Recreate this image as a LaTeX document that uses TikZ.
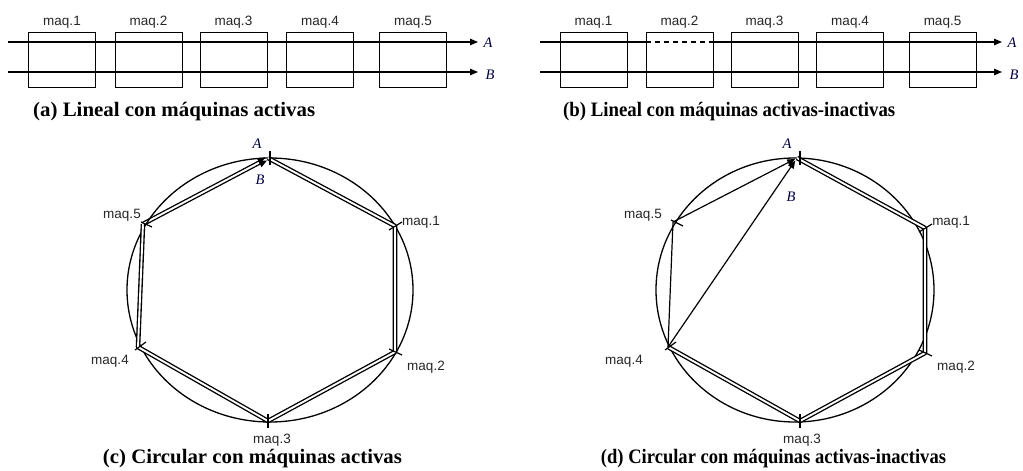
\documentclass[tikz,border=0pt]{standalone}
\usepackage{fontspec}
\setmainfont{Liberation Serif}
\setsansfont{Liberation Sans}
\usetikzlibrary{arrows.meta,calc}

% caption text squeezed or stretched to a given width, height unchanged
\newcommand{\capfit}[2]{\resizebox{#1}{\height}{#2}}

\begin{document}
\begin{tikzpicture}[x=1pt,y=-1pt,
  machine/.style={draw, line width=1pt, minimum width=67pt, minimum height=55pt, inner sep=0pt,
    label distance=2.5pt},
  mlabel/.style={font=\sffamily\fontsize{13.5}{15}\selectfont, text=black!85},
  flow/.style={line width=1.2pt, -{Triangle[length=8pt,width=6.5pt]}},
  plain/.style={line width=1.2pt},
  caption/.style={font=\bfseries\fontsize{20.5}{22}\selectfont, inner sep=0pt},
  ring/.style={line width=1.3pt},
  route/.style={line width=1.35pt, double, double distance=1.9pt, line join=round},
  tick/.style={line width=1.2pt},
  letter/.style={font=\fontsize{14.5}{16}\selectfont\itshape, text=black!75!blue, inner sep=0pt}
]
\useasboundingbox (0,0) rectangle (1023,471);

% ---------- (a) linear layout, all machines active ----------
\foreach \i/\x in {1/62, 2/148.5, 3/233.5, 4/320, 5/413}
  \node[machine, label={[mlabel]above:maq.\i}] (a\i) at (\x,59.5) {};
\coordinate (aA0) at (8,42);  \coordinate (aA1) at (478,42);
\coordinate (aB0) at (8,72);  \coordinate (aB1) at (478,72);
\draw[flow] (aA0) -- (aA1);
\draw[flow] (aB0) -- (aB1);
\node[letter] (aAl) at (488,43) {A};
\node[letter] (aBl) at (490,75) {B};
\node[caption, anchor=west] (capa) at (33,112) {\capfit{282pt}{(a) Lineal con máquinas activas}};

% ---------- (b) linear layout, machine 2 inactive for route A ----------
\foreach \i/\x in {1/593.5, 2/679.5, 3/764.5, 4/850, 5/942.5}
  \node[machine, label={[mlabel]above:maq.\i}] (b\i) at (\x,59.5) {};
\coordinate (bA0) at (540,42);  \coordinate (bA1) at (1002,42);
\coordinate (bB0) at (540,72);  \coordinate (bB1) at (1002,72);
\draw[plain] (bA0) -- (b2.west |- bA0);
\draw[plain, dash pattern=on 5pt off 4pt] (b2.west |- bA0) -- (b2.east |- bA0);
\draw[flow] (b2.east |- bA0) -- (bA1);
\draw[flow] (bB0) -- (bB1);
\node[letter] (bAl) at (1012,43) {A};
\node[letter] (bBl) at (1014,75) {B};
\node[caption, anchor=west] (capb) at (563,112) {\capfit{332pt}{(b) Lineal con máquinas activas-inactivas}};

% ---------- (c) circular layout, all machines active ----------
\draw[ring] (270,290) ellipse [x radius=143, y radius=132];
\coordinate (cT) at (268,158);
\coordinate (c1) at (395,226);
\coordinate (c2) at (395,352);
\coordinate (c3) at (268,421);
\coordinate (c4) at (138,347);
\coordinate (c5) at (143,224);
\draw[route] (cT) -- (c1) -- (c2) -- (c3) -- (c4) -- (c5);
\draw[flow, shorten >=2pt] ($(c5)!1.7pt!90:(cT)$) -- ($(cT)!1.7pt!-90:(c5)$);
\draw[flow, shorten >=2pt] ($(c5)!1.7pt!-90:(cT)$) -- ($(cT)!1.7pt!90:(c5)$);
\draw[tick, shift={(cT)}] (2,-7) -- (2,7);
\draw[tick, shift={(c1)}] (-6,4) -- (7,-4);
\draw[tick, shift={(c2)}] (-6,-3) -- (7,3);
\draw[tick, shift={(c3)}] (0,-7) -- (0,7);
\draw[tick, shift={(c4)}] (-3,3) -- (8,-5);
\draw[tick, shift={(c5)}] (-2,-2) -- (9,3);
\node[letter] (cAl) at (257,144) {A};
\node[letter] (cBl) at (260,180) {B};
\node[mlabel] (cl1) at (421,222) {maq.1};
\node[mlabel] (cl2) at (426,367) {maq.2};
\node[mlabel] (cl3) at (272,440) {maq.3};
\node[mlabel] (cl4) at (110,361) {maq.4};
\node[mlabel] (cl5) at (122,215) {maq.5};
\node[caption] (capc) at (252.5,459) {\capfit{299pt}{(c) Circular con máquinas activas}};

% ---------- (d) circular layout, machine 5 inactive for route B ----------
\draw[ring] (795,290) ellipse [x radius=139, y radius=132];
\coordinate (dT) at (797,158);
\coordinate (d1) at (925,228);
\coordinate (d2) at (925,353);
\coordinate (d3) at (800,421);
\coordinate (d4) at (668,347);
\coordinate (d5) at (673,222);
\draw[route] (dT) -- (d1) -- (d2) -- (d3) -- (d4);
\draw[plain] (d4) -- (d5);
\draw[flow, shorten >=2pt] (d5) -- (dT);
\draw[flow, shorten >=3pt] (d4) -- (dT);
\draw[tick, shift={(dT)}] (3,-7) -- (3,7);
\draw[tick, shift={(d1)}] (-6,4) -- (7,-4);
\draw[tick, shift={(d2)}] (-6,-3) -- (7,3);
\draw[tick, shift={(d3)}] (0,-7) -- (0,7);
\draw[tick, shift={(d4)}] (-3,3) -- (8,-5);
\draw[tick, shift={(d5)}] (-2,-2) -- (10,4);
\node[letter] (dAl) at (787,144) {A};
\node[letter] (dBl) at (791,197) {B};
\node[mlabel] (dl1) at (951,222) {maq.1};
\node[mlabel] (dl2) at (956,367) {maq.2};
\node[mlabel] (dl3) at (802,440) {maq.3};
\node[mlabel] (dl4) at (624,361) {maq.4};
\node[mlabel] (dl5) at (643,215) {maq.5};
\node[caption] (capd) at (773.5,459) {\capfit{345pt}{(d) Circular con máquinas activas-inactivas}};
\end{tikzpicture}
\end{document}
